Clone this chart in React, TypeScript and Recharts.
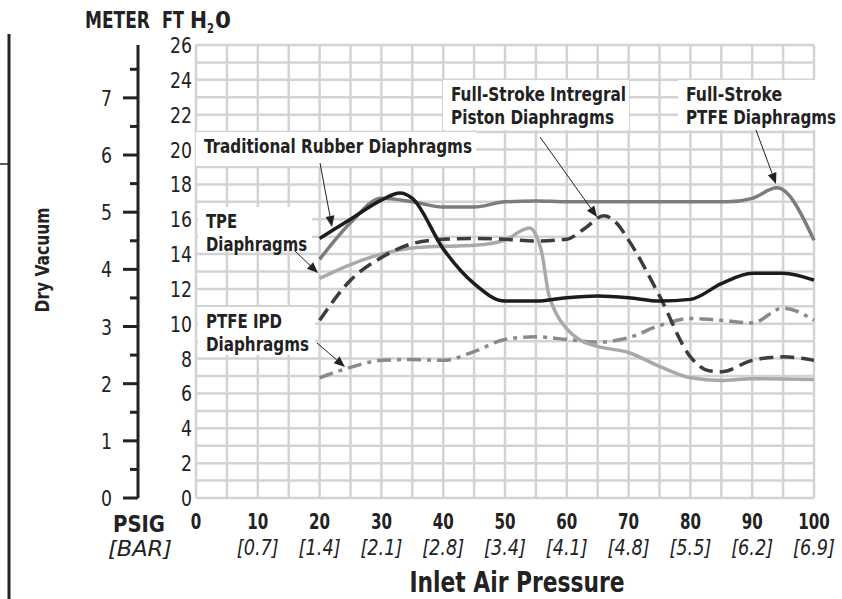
import { CartesianGrid, Line, LineChart, XAxis, YAxis } from "recharts";

const F = "'Liberation Sans Narrow', 'Arial Narrow', 'DejaVu Sans Condensed', sans-serif";
const SQ = "spacingAndGlyphs";

// axis ticks
const psiTicks = [0, 5, 10, 15, 20, 25, 30, 35, 40, 45, 50, 55, 60, 65, 70, 75, 80, 85, 90, 95, 100];
const barLabels: Record<number, string> = {
  10: "[0.7]", 20: "[1.4]", 30: "[2.1]", 40: "[2.8]", 50: "[3.4]",
  60: "[4.1]", 70: "[4.8]", 80: "[5.5]", 90: "[6.2]", 100: "[6.9]",
};
const ftTicks = [0, 1, 2, 3, 4, 5, 6, 7, 8, 9, 10, 11, 12, 13, 14, 15, 16, 17, 18, 19, 20, 21, 22, 23, 24, 25, 26];
const meterTicks = [0, 0.5, 1, 1.5, 2, 2.5, 3, 3.5, 4, 4.5, 5, 5.5, 6, 6.5, 7, 7.5];
const FT_PER_M = 3.28084;

// series (psi, ft H2O)
const rubber = [
  { psi: 20, ft: 14.9 }, { psi: 25, ft: 16.0 }, { psi: 30, ft: 17.1 }, { psi: 33, ft: 17.5 },
  { psi: 35, ft: 17.2 }, { psi: 40, ft: 14.3 }, { psi: 45, ft: 12.3 }, { psi: 50, ft: 11.3 },
  { psi: 55, ft: 11.3 }, { psi: 60, ft: 11.5 }, { psi: 65, ft: 11.6 }, { psi: 70, ft: 11.5 },
  { psi: 75, ft: 11.3 }, { psi: 80, ft: 11.4 }, { psi: 85, ft: 12.3 }, { psi: 90, ft: 12.9 },
  { psi: 95, ft: 12.9 }, { psi: 100, ft: 12.5 },
];
const ptfe = [
  { psi: 20, ft: 13.7 }, { psi: 25, ft: 15.8 }, { psi: 30, ft: 17.2 }, { psi: 35, ft: 17.0 },
  { psi: 40, ft: 16.7 }, { psi: 45, ft: 16.7 }, { psi: 50, ft: 17.0 }, { psi: 55, ft: 17.05 },
  { psi: 60, ft: 17.0 }, { psi: 70, ft: 17.0 }, { psi: 80, ft: 17.0 }, { psi: 86, ft: 17.0 },
  { psi: 90, ft: 17.2 }, { psi: 94, ft: 17.8 }, { psi: 100, ft: 14.8 },
];
const tpe = [
  { psi: 20, ft: 12.6 }, { psi: 25, ft: 13.4 }, { psi: 30, ft: 14.0 }, { psi: 35, ft: 14.35 },
  { psi: 40, ft: 14.45 }, { psi: 45, ft: 14.5 }, { psi: 50, ft: 14.8 }, { psi: 53, ft: 15.4 },
  { psi: 54, ft: 15.5 }, { psi: 55, ft: 15.1 }, { psi: 56, ft: 14.0 }, { psi: 57, ft: 11.8 },
  { psi: 58, ft: 10.8 }, { psi: 60, ft: 9.7 }, { psi: 62, ft: 9.1 }, { psi: 65, ft: 8.7 },
  { psi: 70, ft: 8.35 }, { psi: 75, ft: 7.55 }, { psi: 80, ft: 6.9 }, { psi: 85, ft: 6.75 },
  { psi: 90, ft: 6.85 }, { psi: 100, ft: 6.8 },
];
const piston = [
  { psi: 20, ft: 10.2 }, { psi: 25, ft: 12.5 }, { psi: 30, ft: 13.8 }, { psi: 35, ft: 14.6 },
  { psi: 40, ft: 14.85 }, { psi: 45, ft: 14.9 }, { psi: 50, ft: 14.85 }, { psi: 55, ft: 14.75 },
  { psi: 60, ft: 14.85 }, { psi: 63, ft: 15.5 }, { psi: 66, ft: 16.2 }, { psi: 68, ft: 15.8 },
  { psi: 70, ft: 14.8 }, { psi: 75, ft: 11.6 }, { psi: 80, ft: 8.1 }, { psi: 83, ft: 7.3 },
  { psi: 85, ft: 7.25 }, { psi: 90, ft: 7.9 }, { psi: 95, ft: 8.1 }, { psi: 100, ft: 7.9 },
];
const ipd = [
  { psi: 20, ft: 6.9 }, { psi: 25, ft: 7.5 }, { psi: 30, ft: 7.9 }, { psi: 35, ft: 7.95 },
  { psi: 40, ft: 7.9 }, { psi: 45, ft: 8.4 }, { psi: 50, ft: 9.1 }, { psi: 55, ft: 9.25 },
  { psi: 60, ft: 9.1 }, { psi: 65, ft: 8.95 }, { psi: 70, ft: 9.2 }, { psi: 75, ft: 9.9 },
  { psi: 80, ft: 10.3 }, { psi: 85, ft: 10.2 }, { psi: 90, ft: 10.05 }, { psi: 95, ft: 10.9 },
  { psi: 100, ft: 10.2 },
];

function FtTick({ x, y, payload }: any) {
  if (payload.value % 2 !== 0) return <g />;
  const s = String(payload.value);
  return (
    <text x={x} y={y + 8} textAnchor="end" fontFamily={F} fontSize={22} fill="#222"
      textLength={s.length * 11} lengthAdjust={SQ}>
      {s}
    </text>
  );
}

function MeterTick({ x, y, payload }: any) {
  const major = payload.value % 1 === 0;
  return (
    <g>
      <line x1={x - (major ? 15 : 8)} x2={x} y1={y} y2={y} stroke="#222" strokeWidth={3} />
      {major && (
        <text x={x - 26} y={y + 8} textAnchor="end" fontFamily={F} fontSize={22} fill="#222"
          textLength={11} lengthAdjust={SQ}>
          {payload.value}
        </text>
      )}
    </g>
  );
}

function PsiTick({ x, y, payload }: any) {
  const v = payload.value;
  if (v % 10 !== 0) return <g />;
  const s = String(v);
  return (
    <g>
      <text x={x} y={y + 31} textAnchor="middle" fontFamily={F} fontWeight="bold" fontSize={21} fill="#222"
        textLength={s.length * 10.5} lengthAdjust={SQ}>
        {s}
      </text>
      {barLabels[v] && (
        <text x={x} y={y + 57} textAnchor="middle" fontFamily={F} fontStyle="italic" fontSize={22} fill="#222"
          textLength={42} lengthAdjust={SQ}>
          {barLabels[v]}
        </text>
      )}
    </g>
  );
}

function Note({ x, y, w, h, lines, lens }: { x: number; y: number; w: number; h: number; lines: string[]; lens: number[] }) {
  return (
    <g>
      <rect x={x} y={y} width={w} height={h} fill="#fff" />
      {lines.map((t, i) => (
        <text key={i} x={x + 8} y={y + 21 + i * 23} fontFamily={F} fontWeight="bold" fontSize={20} fill="#222"
          textLength={lens[i]} lengthAdjust={SQ}>
          {t}
        </text>
      ))}
    </g>
  );
}

function Arrow({ x1, y1, x2, y2 }: { x1: number; y1: number; x2: number; y2: number }) {
  const a = Math.atan2(y2 - y1, x2 - x1);
  const L = 11, W = 4.5;
  const bx = x2 - L * Math.cos(a), by = y2 - L * Math.sin(a);
  const px = -Math.sin(a) * W, py = Math.cos(a) * W;
  return (
    <g>
      <line x1={x1} y1={y1} x2={bx} y2={by} stroke="#222" strokeWidth={1} />
      <polygon points={`${x2},${y2} ${bx + px},${by + py} ${bx - px},${by - py}`} fill="#222" />
    </g>
  );
}

export default function App() {
  return (
    <div style={{ position: "absolute", left: 0, top: 0, width: 842, height: 599, background: "#fff" }}>
      <LineChart width={842} height={599} margin={{ top: 45, right: 28, bottom: 71, left: 78 }}>
        <CartesianGrid yAxisId="ft" stroke="#d3d3d3" strokeWidth={2.5} />
        <XAxis
          dataKey="psi"
          type="number"
          domain={[0, 100]}
          ticks={psiTicks}
          interval={0}
          height={30}
          axisLine={false}
          tickLine={false}
          tickSize={0}
          tickMargin={0}
          tick={<PsiTick />}
        />
        <YAxis
          yAxisId="ft"
          type="number"
          domain={[0, 26]}
          ticks={ftTicks}
          interval={0}
          width={58}
          axisLine={false}
          tickLine={false}
          tickSize={0}
          tickMargin={4}
          tick={<FtTick />}
        />
        <YAxis
          yAxisId="m"
          type="number"
          domain={[0, 26 / FT_PER_M]}
          allowDataOverflow
          ticks={meterTicks}
          interval={0}
          width={60}
          axisLine={{ stroke: "#222", strokeWidth: 3 }}
          tickLine={false}
          tickSize={0}
          tickMargin={0}
          tick={<MeterTick />}
        />
        <Line yAxisId="ft" data={ipd} dataKey="ft" type="monotone" stroke="#8a8a8a" strokeWidth={3.5}
          strokeDasharray="14 6 4 6" dot={false} isAnimationActive={false} />
        <Line yAxisId="ft" data={tpe} dataKey="ft" type="monotone" stroke="#a9a9a9" strokeWidth={3.5}
          dot={false} isAnimationActive={false} />
        <Line yAxisId="ft" data={piston} dataKey="ft" type="monotone" stroke="#3c3c3c" strokeWidth={3.5}
          strokeDasharray="14 7" dot={false} isAnimationActive={false} />
        <Line yAxisId="ft" data={ptfe} dataKey="ft" type="monotone" stroke="#7c7c7c" strokeWidth={3.5}
          dot={false} isAnimationActive={false} />
        <Line yAxisId="ft" data={rubber} dataKey="ft" type="monotone" stroke="#1c1c1c" strokeWidth={3.5}
          dot={false} isAnimationActive={false} />
      </LineChart>
      <svg width={842} height={599} style={{ position: "absolute", left: 0, top: 0, pointerEvents: "none" }}>
        <line x1={9} y1={34} x2={9} y2={599} stroke="#222" strokeWidth={3} />
        <line x1={0} y1={164} x2={9} y2={164} stroke="#222" strokeWidth={1.5} />
        <text x={42} y={260} transform="rotate(-90 42 260)" textAnchor="middle" dominantBaseline="central"
          fontFamily={F} fontWeight="bold" fontSize={19} fill="#222" textLength={105} lengthAdjust={SQ}>Dry Vacuum</text>
        <text x={85} y={28} fontFamily={F} fontWeight="bold" fontSize={23} fill="#222"
          textLength={65} lengthAdjust={SQ}>METER</text>
        <text x={162} y={28} fontFamily={F} fontWeight="bold" fontSize={23} fill="#222"
          textLength={22} lengthAdjust={SQ}>FT</text>
        <text x={190} y={28} fontFamily={F} fontWeight="bold" fontSize={23} fill="#222"
          textLength={17} lengthAdjust={SQ}>H</text>
        <text x={207} y={33} fontFamily={F} fontWeight="bold" fontSize={14} fill="#222"
          textLength={7} lengthAdjust={SQ}>2</text>
        <text x={215} y={28} fontFamily={F} fontWeight="bold" fontSize={23} fill="#222"
          textLength={16} lengthAdjust={SQ}>0</text>
        <text x={113} y={532} fontFamily={F} fontWeight="bold" fontSize={23} fill="#222"
          textLength={52} lengthAdjust={SQ}>PSIG</text>
        <text x={108} y={556} fontFamily={F} fontStyle="italic" fontSize={22} fill="#222"
          textLength={64} lengthAdjust={SQ}>[BAR]</text>
        <text x={517} y={592} textAnchor="middle" fontFamily={F} fontWeight="bold" fontSize={28} fill="#222"
          textLength={215} lengthAdjust={SQ}>
          Inlet Air Pressure
        </text>
        <Note x={196} y={132} w={280} h={34} lines={["Traditional Rubber Diaphragms"]} lens={[268]} />
        <Note x={198} y={207} w={114} h={44} lines={["TPE", "Diaphragms"]} lens={[31, 101]} />
        <Note x={443} y={80} w={186} h={50} lines={["Full-Stroke Intregral", "Piston Diaphragms"]} lens={[175, 163]} />
        <Note x={678} y={80} w={164} h={50} lines={["Full-Stroke", "PTFE Diaphragms"]} lens={[96, 150]} />
        <Note x={198} y={307} w={117} h={48} lines={["PTFE IPD", "Diaphragms"]} lens={[76, 103]} />
        <Arrow x1={320} y1={163} x2={332} y2={227} />
        <Arrow x1={295} y1={251} x2={318} y2={273} />
        <Arrow x1={540} y1={137} x2={597} y2={217} />
        <Arrow x1={756} y1={130} x2={776} y2={184} />
        <Arrow x1={317} y1={343} x2={345} y2={367} />
      </svg>
    </div>
  );
}
